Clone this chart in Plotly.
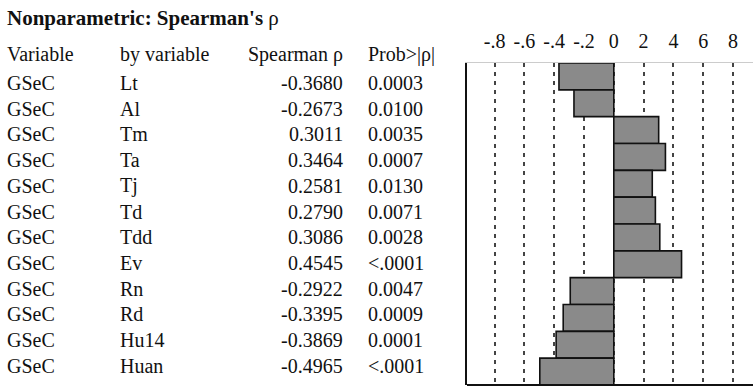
import plotly.graph_objects as go

variables = ["GSeC"] * 12
by_variables = ["Lt", "Al", "Tm", "Ta", "Tj", "Td", "Tdd", "Ev", "Rn", "Rd", "Hu14", "Huan"]
spearman_rho = [-0.3680, -0.2673, 0.3011, 0.3464, 0.2581, 0.2790, 0.3086, 0.4545,
                -0.2922, -0.3395, -0.3869, -0.4965]
prob_text = ["0.0003", "0.0100", "0.0035", "0.0007", "0.0130", "0.0071", "0.0028",
             "<.0001", "0.0047", "0.0009", "0.0001", "<.0001"]
tick_vals = [-0.8, -0.6, -0.4, -0.2, 0, 0.2, 0.4, 0.6, 0.8]
tick_text = ["-.8", "-.6", "-.4", "-.2", "0", "2", "4", "6", "8"]

W, H = 753, 387
FONT = "Liberation Serif"
FS = 20

fig = go.Figure()
fig.add_trace(go.Bar(
    x=spearman_rho, y=list(range(len(by_variables))), orientation="h",
    width=1.0,
    marker=dict(color="#8a8a8a", line=dict(color="#111111", width=1.6)),
    hoverinfo="skip", showlegend=False,
))

px_left, px_right, px_top, px_bot = 467, 753, 63, 385
fig.update_layout(
    width=W, height=H, margin=dict(l=0, r=0, t=0, b=0),
    paper_bgcolor="white", plot_bgcolor="white",
    font=dict(family=FONT, size=FS, color="#111111"),
    bargap=0,
    xaxis=dict(
        domain=[px_left / W, px_right / W],
        range=[-0.985, 0.934], side="top",
        tickvals=tick_vals, ticktext=tick_text, ticks="",
        ticklabelstandoff=6,
        tickfont=dict(family=FONT, size=FS, color="#111111"),
        showgrid=True, gridcolor="#444444", gridwidth=2, griddash="4px,5px",
        zeroline=False, showline=True, linecolor="#cccccc", linewidth=1,
        mirror=False, fixedrange=True,
    ),
    yaxis=dict(
        domain=[1 - px_bot / H, 1 - px_top / H],
        range=[11.5, -0.5], showticklabels=False, ticks="",
        showgrid=False, zeroline=False, showline=True, linecolor="#111111",
        linewidth=2, fixedrange=True,
    ),
)
# bottom axis line
fig.add_shape(type="line", xref="paper", yref="paper",
              x0=px_left / W, x1=1, y0=1 - px_bot / H, y1=1 - px_bot / H,
              line=dict(color="#111111", width=2))

def ann(text, xp, yp, anchor="left", size=FS):
    fig.add_annotation(text=text, xref="paper", yref="paper",
                       x=xp / W, y=1 - yp / H, xanchor=anchor, yanchor="middle",
                       showarrow=False, font=dict(family=FONT, size=size, color="#111111"))

ann("<b>Nonparametric: Spearman's</b> ρ", 5, 18, size=21)
hy = 54
ann("Variable", 5, hy)
ann("by variable", 118, hy)
ann("Spearman ρ", 345, hy, anchor="right")
ann("Prob&gt;|ρ|", 366, hy)

for i in range(len(by_variables)):
    y = 83 + 25.7 * i
    ann(variables[i], 5, y)
    ann(by_variables[i], 118, y)
    ann(f"{spearman_rho[i]:.4f}", 345, y, anchor="right")
    ann(prob_text[i].replace("<", "&lt;"), 366, y)

fig.write_html("out.html", config={"displayModeBar": False, "staticPlot": True},
               post_script="document.body.style.margin='0px';")
